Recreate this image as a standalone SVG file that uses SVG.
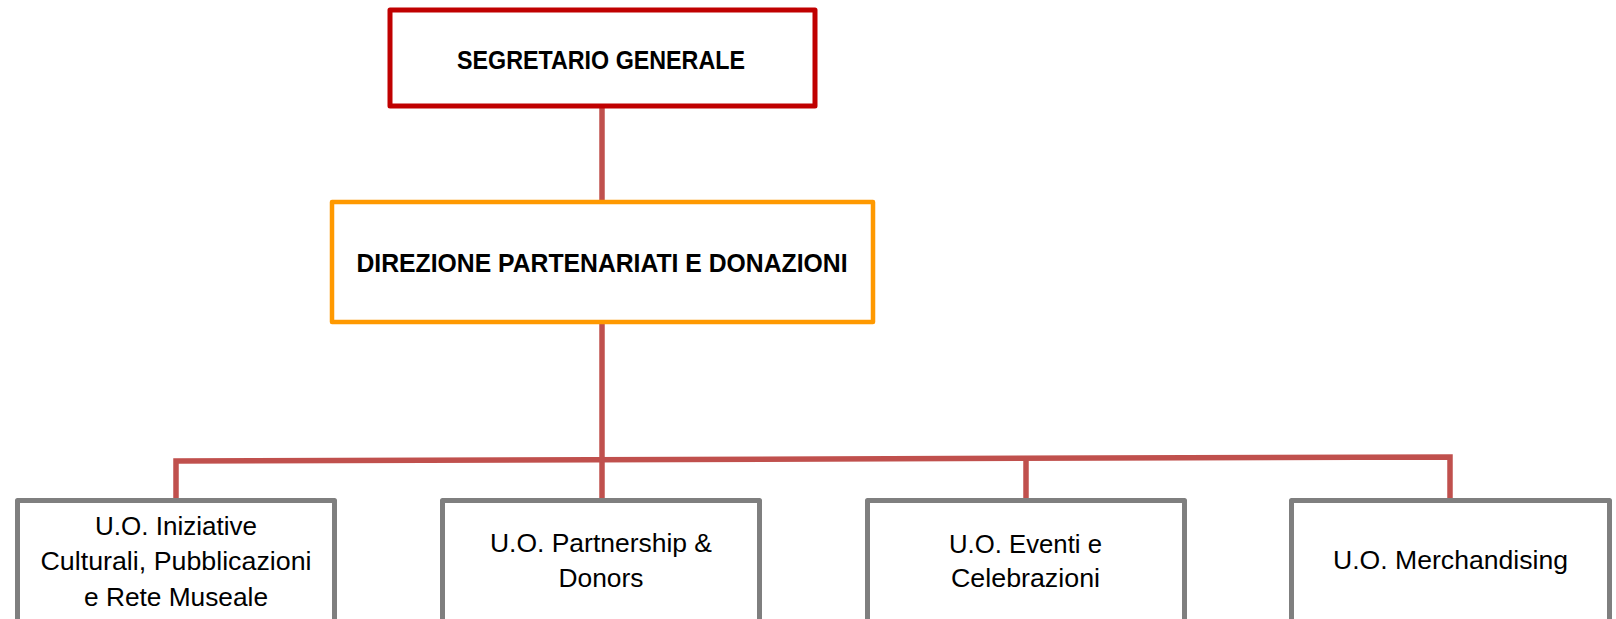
<svg xmlns="http://www.w3.org/2000/svg" width="1616" height="619" viewBox="0 0 1616 619">
  <style>
    .box { fill: #ffffff; stroke-linejoin: round; }
    .top { stroke: #C00000; stroke-width: 5; }
    .mid { stroke: #FF9900; stroke-width: 4.5; }
    .uo { stroke: #7F7F7F; stroke-width: 5; }
    .conn { fill: none; stroke: #C0504D; stroke-width: 5.5; stroke-linejoin: miter; }
    .bold { font-family: "Liberation Sans", Arial, sans-serif; font-weight: bold; font-size: 26px; fill: #000000; text-anchor: middle; }
    .reg { font-family: "Liberation Sans", Arial, sans-serif; font-size: 26px; fill: #000000; text-anchor: middle; }
  </style>
  <rect width="1616" height="619" fill="#ffffff"/>
  <g id="connectors">
    <line class="conn" x1="602" y1="106" x2="602" y2="202"/>
    <line class="conn" x1="602" y1="322" x2="602" y2="500"/>
    <polyline class="conn" points="176,500 176,461 1450,457 1450,500"/>
    <line class="conn" x1="1026" y1="459" x2="1026" y2="500"/>
  </g>
  <g id="segretario-generale">
    <rect class="box top" x="390" y="10" width="425" height="96"/>
    <text class="bold" x="601" y="69" textLength="288" lengthAdjust="spacingAndGlyphs">SEGRETARIO GENERALE</text>
  </g>
  <g id="direzione">
    <rect class="box mid" x="332" y="202" width="541" height="120"/>
    <text class="bold" x="602" y="272" textLength="491" lengthAdjust="spacingAndGlyphs">DIREZIONE PARTENARIATI E DONAZIONI</text>
  </g>
  <g id="uo-iniziative">
    <rect class="box uo" x="17.5" y="500.5" width="317" height="140"/>
    <text class="reg" x="176" y="535" textLength="162" lengthAdjust="spacingAndGlyphs">U.O. Iniziative</text>
    <text class="reg" x="176" y="570" textLength="271" lengthAdjust="spacingAndGlyphs">Culturali, Pubblicazioni</text>
    <text class="reg" x="176" y="605.5" textLength="184" lengthAdjust="spacingAndGlyphs">e Rete Museale</text>
  </g>
  <g id="uo-partnership">
    <rect class="box uo" x="442.5" y="500.5" width="317" height="140"/>
    <text class="reg" x="601" y="551.5" textLength="222" lengthAdjust="spacingAndGlyphs">U.O. Partnership &amp;</text>
    <text class="reg" x="601" y="586.5" textLength="85" lengthAdjust="spacingAndGlyphs">Donors</text>
  </g>
  <g id="uo-eventi">
    <rect class="box uo" x="867.5" y="500.5" width="317" height="140"/>
    <text class="reg" x="1025.5" y="552.5" textLength="153" lengthAdjust="spacingAndGlyphs">U.O. Eventi e</text>
    <text class="reg" x="1025.5" y="586.5" textLength="149" lengthAdjust="spacingAndGlyphs">Celebrazioni</text>
  </g>
  <g id="uo-merchandising">
    <rect class="box uo" x="1291.5" y="500.5" width="318" height="140"/>
    <text class="reg" x="1450.5" y="569" textLength="235" lengthAdjust="spacingAndGlyphs">U.O. Merchandising</text>
  </g>
</svg>
